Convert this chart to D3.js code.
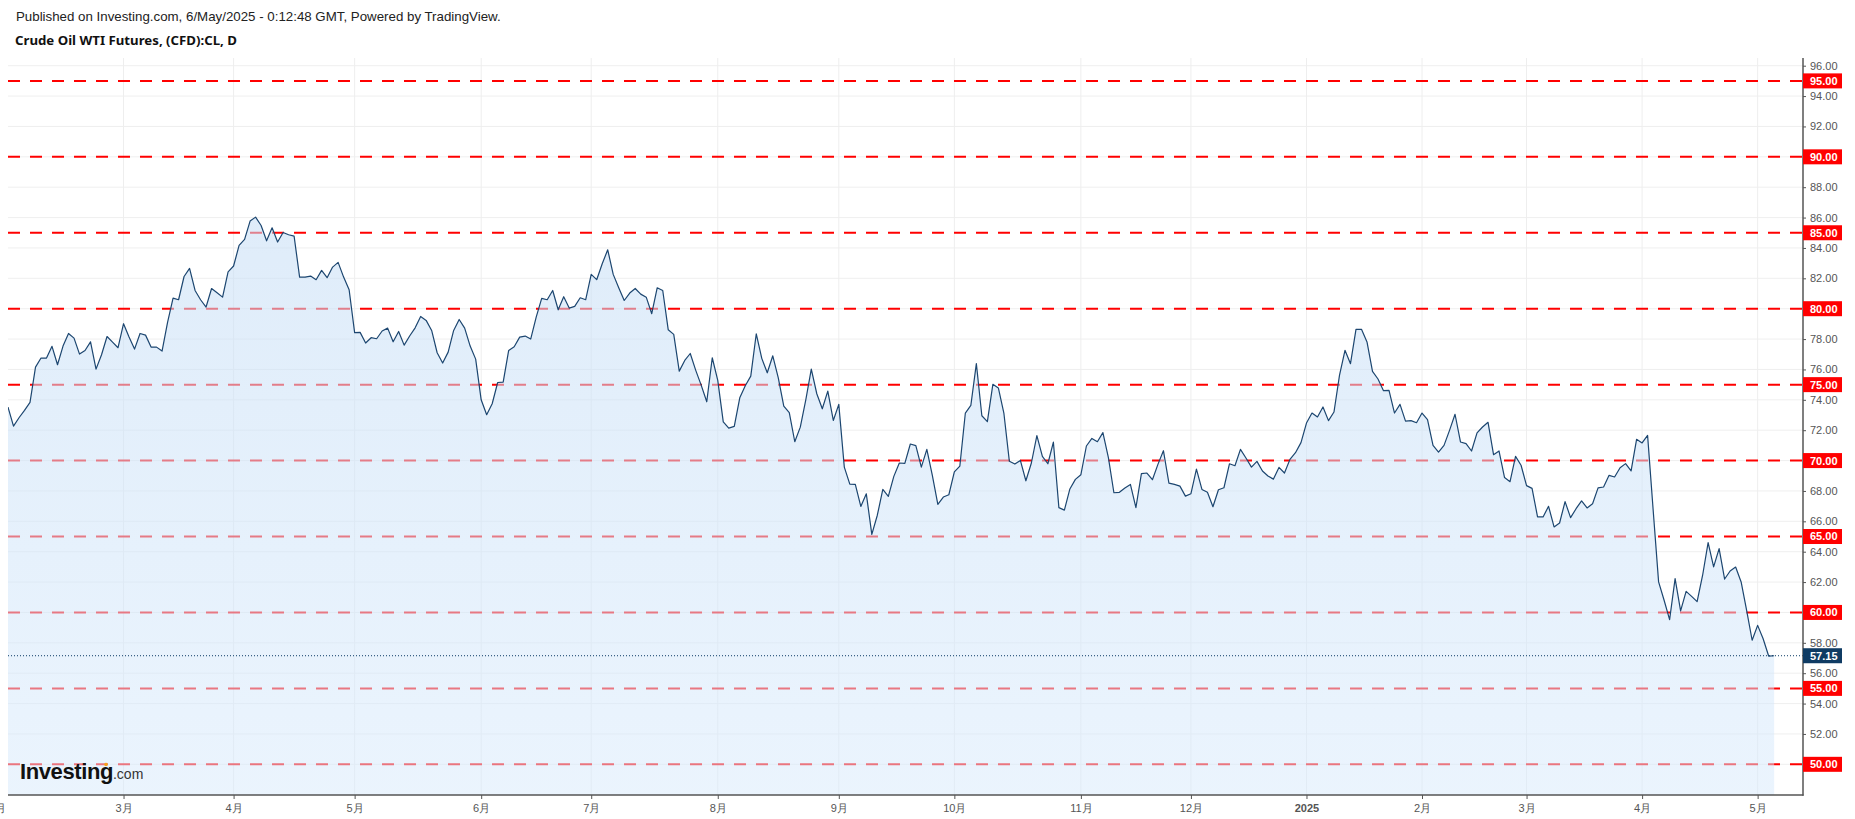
<!DOCTYPE html>
<html>
<head>
<meta charset="utf-8">
<script src="https://d3js.org/d3.v7.min.js"></script>
<style>
body { margin: 0; background: #fff; }
svg { display: block; }
</style>
</head>
<body>
<svg id="chart" width="1855" height="819"></svg>
<script>
var width = 1855, height = 819
var plotLeft = 8, plotRight = 1803, plotTop = 58, plotBottom = 795

// daily closes, one array per month (Feb 2024 .. May 2025)
var feb24 = [73.52, 72.27, 72.82, 73.30, 73.83, 76.15, 76.75, 76.75, 77.52, 76.31, 77.54, 78.37, 78.06, 77.01, 77.25, 77.82, 76.02, 76.97, 78.17, 77.80, 77.43]
var mar24 = [79.01, 78.13, 77.34, 78.37, 78.26, 77.47, 77.47, 77.21, 79.10, 80.70, 80.59, 82.12, 82.65, 81.20, 80.59, 80.11, 81.33, 81.05, 80.76, 82.43]
var apr24 = [82.81, 84.17, 84.56, 85.77, 86.03, 85.48, 84.47, 85.33, 84.39, 85.02, 84.87, 84.78, 82.08, 82.08, 82.15, 81.91, 82.52, 82.04, 82.74, 83.05, 82.08, 81.25]
var may24 = [78.42, 78.44, 77.74, 78.09, 78.02, 78.53, 78.72, 77.82, 78.50, 77.60, 78.20, 78.74, 79.49, 79.23, 78.57, 77.10, 76.42, 77.14, 78.57, 79.29, 78.72, 77.54, 76.68]
var jun24 = [74.00, 73.02, 73.74, 75.14, 75.17, 77.25, 77.49, 78.13, 78.20, 78.00, 79.45, 80.68, 80.59, 81.20, 79.93, 80.79, 80.04, 80.15, 80.72, 80.59]
var jul24 = [82.26, 81.91, 82.96, 83.88, 82.26, 81.38, 80.54, 81.03, 81.33, 80.96, 80.76, 79.67, 81.38, 81.20, 78.61, 78.31, 75.89, 76.59, 77.05, 75.94, 74.95, 73.87, 76.77]
var aug24 = [75.28, 72.55, 72.14, 72.25, 74.13, 74.93, 75.56, 78.35, 76.73, 75.78, 76.90, 75.45, 73.59, 73.15, 71.24, 72.20, 74.00, 76.02, 74.40, 73.41, 74.57, 72.64]
var sep24 = [73.70, 69.57, 68.45, 68.43, 66.98, 67.81, 65.14, 66.40, 68.10, 67.64, 68.96, 69.84, 69.82, 71.09, 70.98, 69.57, 70.74, 69.03, 67.12, 67.60, 67.75]
var oct24 = [69.25, 69.64, 73.13, 73.63, 76.38, 72.95, 72.56, 75.02, 74.78, 73.13, 69.95, 69.77, 70.01, 68.67, 69.84, 71.64, 70.28, 69.79, 71.22, 66.90, 66.74, 68.13, 68.76]
var nov24 = [69.07, 70.96, 71.46, 71.24, 71.84, 70.19, 67.88, 67.91, 68.19, 68.43, 66.90, 69.14, 69.18, 68.74, 69.75, 70.65, 68.52, 68.43, 68.32, 67.66]
var dec24 = [67.82, 69.44, 68.10, 67.91, 66.96, 68.08, 68.21, 69.79, 69.66, 70.74, 70.17, 69.57, 69.95, 69.31, 68.98, 68.78, 69.55, 69.18, 70.08, 70.52, 71.18]
var jan25 = [72.47, 73.13, 72.87, 73.53, 72.63, 73.20, 75.61, 77.26, 76.38, 78.64, 78.64, 77.81, 75.87, 75.37, 74.60, 74.62, 73.13, 73.70, 72.60, 72.63, 72.49]
var feb25 = [73.13, 72.69, 71.00, 70.56, 71.00, 71.99, 73.05, 71.22, 71.12, 70.63, 71.82, 72.21, 72.52, 70.39, 70.63, 68.88, 68.61, 70.28, 69.69]
var mar25 = [68.35, 68.17, 66.29, 66.29, 66.99, 65.63, 65.89, 67.30, 66.24, 66.83, 67.34, 66.88, 67.16, 68.20, 68.26, 69.03, 68.92, 69.53, 69.80, 69.32, 71.40]
var apr25 = [71.16, 71.66, 66.80, 62.01, 60.80, 59.53, 62.23, 60.10, 61.39, 61.06, 60.71, 62.45, 64.60, 63.00, 64.20, 62.20, 62.73, 62.99, 62.01, 60.14, 58.17]
var may25 = [59.15, 58.27, 57.13, 57.15]

var monthCloses = [feb24, mar24, apr24, may24, jun24, jul24, aug24, sep24, oct24, nov24, dec24, jan25, feb25, mar25, apr25, may25]
var monthLabels = ["2月", "3月", "4月", "5月", "6月", "7月", "8月", "9月", "10月", "11月", "12月", "2025", "2月", "3月", "4月", "5月"]
var febLead = 2 // first Feb bars sit left of the visible window

var levels = [50, 55, 60, 65, 70, 75, 80, 85, 90, 95]
var lastPrice = 57.15
var priceTicks = [50, 52, 54, 56, 58, 60, 62, 64, 66, 68, 70, 72, 74, 76, 78, 80, 82, 84, 86, 88, 90, 92, 94, 96]

var closes = [].concat.apply([], monthCloses)
var monthStarts = []
var acc = 0
monthCloses.forEach(function(m, i) {
  monthStarts.push(i == 0 ? -febLead : acc)
  acc += m.length
})

var x = d3.scaleLinear().domain([0, closes.length - 1]).range([plotLeft, plotLeft + (closes.length - 1) * 5.502])
var y = d3.scaleLinear().domain([47.98, 96.507]).range([plotBottom, plotTop])

var svg = d3.select('#chart')
var font = "'Liberation Sans', Arial, sans-serif"

var defs = svg.append('defs')
defs.append('clipPath').attr('id', 'plot')
  .append('rect').attr('x', plotLeft).attr('y', plotTop)
  .attr('width', plotRight - plotLeft).attr('height', plotBottom - plotTop)
var grad = defs.append('linearGradient').attr('id', 'fillGrad')
  .attr('gradientUnits', 'userSpaceOnUse')
  .attr('x1', 0).attr('x2', 0).attr('y1', plotTop).attr('y2', plotBottom)
grad.append('stop').attr('offset', 0).attr('stop-color', 'rgb(196,220,244)').attr('stop-opacity', 0.6)
grad.append('stop').attr('offset', 1).attr('stop-color', 'rgb(214,233,252)').attr('stop-opacity', 0.5)

var plot = svg.append('g').attr('clip-path', 'url(#plot)')

// grid
plot.selectAll('.hgrid').data(priceTicks).enter().append('line')
  .attr('x1', plotLeft).attr('x2', plotRight)
  .attr('y1', function(d) { return y(d) }).attr('y2', function(d) { return y(d) })
  .attr('stroke', '#efefef').attr('stroke-width', 1)
plot.selectAll('.vgrid').data(monthStarts).enter().append('line')
  .attr('x1', function(d) { return x(d) }).attr('x2', function(d) { return x(d) })
  .attr('y1', plotTop).attr('y2', plotBottom)
  .attr('stroke', '#eeeeee').attr('stroke-width', 1)

// red level lines
plot.selectAll('.level').data(levels).enter().append('line')
  .attr('x1', plotLeft).attr('x2', plotRight)
  .attr('y1', function(d) { return y(d) }).attr('y2', function(d) { return y(d) })
  .attr('stroke', '#ff0000').attr('stroke-width', 2)
  .attr('stroke-dasharray', '12,10')

// area + line
var area = d3.area()
  .x(function(d, i) { return x(i) })
  .y0(plotBottom)
  .y1(function(d) { return y(d) })
plot.append('path').datum(closes).attr('d', area).attr('fill', 'url(#fillGrad)')

var line = d3.line()
  .x(function(d, i) { return x(i) })
  .y(function(d) { return y(d) })
plot.append('path').datum(closes).attr('d', line)
  .attr('fill', 'none').attr('stroke', '#1c4670').attr('stroke-width', 1.2)
  .attr('stroke-linejoin', 'round')

plot.append('line')
  .attr('x1', plotLeft).attr('x2', plotRight)
  .attr('y1', y(lastPrice)).attr('y2', y(lastPrice))
  .attr('stroke', '#0c3c66').attr('stroke-width', 1).attr('stroke-dasharray', '1,2')

// x axis
var xAxis = d3.axisBottom(x)
  .tickValues(monthStarts)
  .tickFormat(function(d, i) { return monthLabels[i] })
  .tickSize(4).tickPadding(5)
var gx = svg.append('g').attr('transform', 'translate(0,' + plotBottom + ')').call(xAxis)
gx.select('.domain').remove()
gx.selectAll('line').attr('stroke', '#555')
gx.selectAll('text').attr('fill', '#555').style('font', '11px ' + font)
  .style('font-weight', function(d, i) { return monthLabels[i] == '2025' ? 'bold' : 'normal' })
svg.append('line').attr('x1', plotLeft).attr('x2', plotRight + 0.5)
  .attr('y1', plotBottom).attr('y2', plotBottom)
  .attr('stroke', '#555').attr('stroke-width', 1.5)

// right axis
var yAxis = d3.axisRight(y)
  .tickValues(priceTicks)
  .tickFormat(d3.format('.2f'))
  .tickSize(3).tickPadding(4)
var gy = svg.append('g').attr('transform', 'translate(' + plotRight + ',0)').call(yAxis)
gy.select('.domain').remove()
gy.selectAll('line').attr('stroke', '#555')
gy.selectAll('text').attr('fill', '#555').style('font', '11px ' + font)
  .attr('x', 7)
  .style('display', function(d) {
    return levels.some(function(l) { return Math.abs(l - d) < 1 }) ? 'none' : null
  })
svg.append('line').attr('x1', plotRight).attr('x2', plotRight)
  .attr('y1', plotTop).attr('y2', plotBottom + 0.75)
  .attr('stroke', '#555').attr('stroke-width', 1.5)

// price labels
var tags = levels.map(function(v) { return { v: v, fill: '#ff0000' } })
tags.push({ v: lastPrice, fill: '#0f3b63' })
var tag = svg.selectAll('.tag').data(tags).enter().append('g')
  .attr('transform', function(d) { return 'translate(' + plotRight + ',' + y(d.v) + ')' })
tag.append('rect').attr('x', 0).attr('y', -7.5).attr('width', 39).attr('height', 15)
  .attr('fill', function(d) { return d.fill })
tag.append('text').attr('x', 7).attr('dy', '0.36em')
  .attr('fill', '#fff').style('font', 'bold 11px ' + font)
  .text(function(d) { return d.v.toFixed(2) })

// logo
var logo = svg.append('text').attr('x', 20).attr('y', 779)
logo.append('tspan').text('Investing')
  .style('font', 'bold 22px ' + font).attr('letter-spacing', '-0.4').attr('fill', '#111')
logo.append('tspan').text('.com')
  .style('font', '14px ' + font).attr('fill', '#333')
svg.append('circle').attr('cx', 106).attr('cy', 764.5).attr('r', 1.8).attr('fill', '#f7a21b')

// header
svg.append('text').attr('x', 16).attr('y', 21)
  .style('font', '13.3px ' + font).attr('fill', '#222')
  .text('Published on Investing.com, 6/May/2025 - 0:12:48 GMT, Powered by TradingView.')
svg.append('text').attr('x', 15).attr('y', 45)
  .style('font', "bold 13px 'Noto Sans', 'Open Sans', sans-serif").attr('fill', '#111')
  .attr('textLength', 222).attr('lengthAdjust', 'spacingAndGlyphs')
  .text('Crude Oil WTI Futures, (CFD):CL, D')
</script>
</body>
</html>
